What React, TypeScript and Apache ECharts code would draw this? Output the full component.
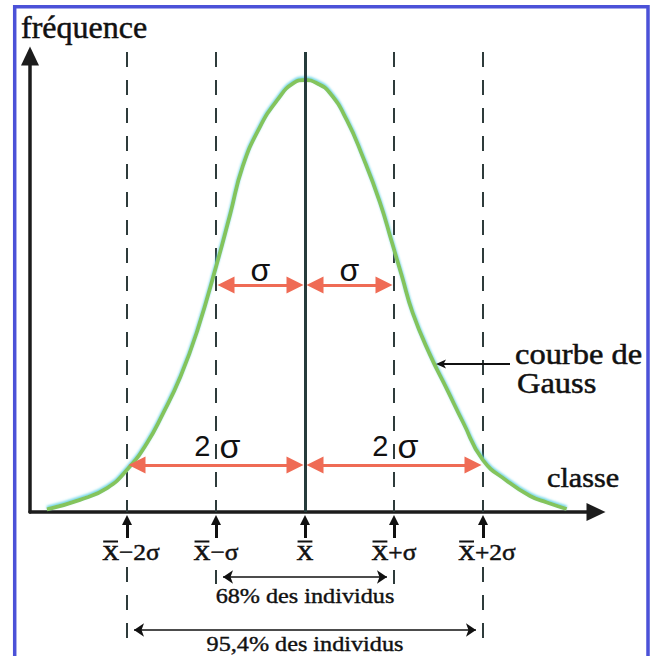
import React, { useEffect, useRef } from "react";
import * as echarts from "echarts";

// ---- data (x in σ units around the mean, y relative to the peak) ----
const curveX = [-2.9, -2.53, -2.22, -1.99, -1.78, -1.6, -1.4, -1.21, -0.99, -0.84, -0.7, -0.51, -0.31, -0.13, 0, 0.13, 0.28, 0.47, 0.65, 0.84, 0.98, 1.09, 1.21, 1.4, 1.6, 1.78, 2.0, 2.27, 2.53, 2.72, 2.94];
const curveY = [0.006, 0.028, 0.056, 0.1, 0.158, 0.226, 0.313, 0.42, 0.575, 0.69, 0.8, 0.89, 0.954, 0.993, 1.0, 0.993, 0.97, 0.907, 0.822, 0.718, 0.622, 0.545, 0.461, 0.366, 0.282, 0.206, 0.12, 0.072, 0.037, 0.022, 0.007];
const sigmaPositions = [-2, -1, 0, 1, 2];
const tickSuffixes = ["\u22122\u03c3", "\u2212\u03c3", "", "+\u03c3", "+2\u03c3"];
const innerArrows = [[-1, 0], [0, 1]];
const innerLabel = "\u03c3";
const outerArrows = [[-2, 0], [0, 2]];
const outerFactor = "2";
const coverageFrom = [-1, -2];
const coverageTo = [1, 2];
const coverageLabels = ["68% des individus", "95,4% des individus"];
const yAxisTitle = "fr\u00e9quence";
const xAxisTitle = "classe";
const curveTitle = ["courbe de", "Gauss"];

// ---- layout ----
const X_MIN = -3.09;
const X_MAX = 3.27;
const Y_MAX = 1.0556;
const GRID_LEFT = 30;
const GRID_TOP = 56;
const GRID_W = 566;
const GRID_H = 456;
const LOWER_H = 144;
const PX = GRID_W / (X_MAX - X_MIN);
const GUIDE_TOP = 1.065;
const SIGMA_ARROW_Y = 0.5255;
const TWO_SIGMA_ARROW_Y = 0.109;
const SIGMA_LABEL_Y = 0.56;
const TWO_SIGMA_LABEL_Y = 0.153;
const SERIF = '"Liberation Serif", "Times New Roman", serif';
const SANS = '"Liberation Sans", Arial, sans-serif';
const COVER_Y = [65, 118];
const COVER_LABEL_Y = [83, 131];
const TICK_LABEL_Y = 41;

const dashed = { color: "#2e3b3b", width: 2, type: [15, 13], opacity: 1 };

function buildOption(): any {
  const inset = (px: number) => px / PX;
  return {
    animation: false,
    backgroundColor: "#ffffff",
    grid: [
      { left: GRID_LEFT, top: GRID_TOP, width: GRID_W, height: GRID_H },
      { left: GRID_LEFT, top: GRID_TOP + GRID_H, width: GRID_W, height: LOWER_H },
    ],
    xAxis: [
      {
        gridIndex: 0, type: "value", min: X_MIN, max: X_MAX,
        axisLine: { show: true, onZero: false, symbol: ["none", "triangle"], symbolSize: [18, 19], lineStyle: { color: "#1c1c1c", width: 3.5 } },
        axisTick: { show: false }, axisLabel: { show: false }, splitLine: { show: false },
      },
      { gridIndex: 1, type: "value", min: X_MIN, max: X_MAX, show: false, splitLine: { show: false } },
    ],
    yAxis: [
      {
        gridIndex: 0, type: "value", min: 0, max: Y_MAX,
        axisLine: { show: true, onZero: false, symbol: ["none", "triangle"], symbolSize: [18, 19], lineStyle: { color: "#1c1c1c", width: 3.5 } },
        axisTick: { show: false }, axisLabel: { show: false }, splitLine: { show: false },
      },
      { gridIndex: 1, type: "value", min: 0, max: LOWER_H, inverse: true, show: false, splitLine: { show: false } },
    ],
    series: [
      {
        type: "lines", coordinateSystem: "cartesian2d", xAxisIndex: 0, yAxisIndex: 0, clip: false, silent: true, z: 2,
        symbol: "none", lineStyle: dashed,
        data: sigmaPositions.filter((k) => k !== 0).map((k) => ({ coords: [[k, GUIDE_TOP], [k, 0]] })),
      },
      {
        type: "line", name: "courbe de Gauss", xAxisIndex: 0, yAxisIndex: 0, z: 3, silent: true,
        data: curveX.map((x, i) => [x, curveY[i]]), smooth: 0.5, symbol: "none",
        lineStyle: { color: "#84c45c", width: 3.8, shadowColor: "rgba(80,205,225,0.85)", shadowBlur: 2, shadowOffsetY: -1.5 },
      },
      {
        type: "lines", coordinateSystem: "cartesian2d", xAxisIndex: 0, yAxisIndex: 0, clip: false, silent: true, z: 4,
        symbol: "none", lineStyle: { color: "#263b3b", width: 3, opacity: 1 },
        data: sigmaPositions.filter((k) => k === 0).map((k) => ({ coords: [[k, GUIDE_TOP], [k, 0]] })),
      },
      {
        type: "lines", coordinateSystem: "cartesian2d", xAxisIndex: 0, yAxisIndex: 0, clip: false, silent: true, z: 5,
        symbol: ["triangle", "triangle"], symbolSize: 17, lineStyle: { color: "#ef6b55", width: 3, opacity: 1 },
        data: [
          ...innerArrows.map(([a, b]) => ({ coords: [[a + inset(10), SIGMA_ARROW_Y], [b - inset(10), SIGMA_ARROW_Y]] })),
          ...outerArrows.map(([a, b]) => ({ coords: [[a + inset(10), TWO_SIGMA_ARROW_Y], [b - inset(10), TWO_SIGMA_ARROW_Y]] })),
        ],
      },
      {
        type: "lines", coordinateSystem: "cartesian2d", xAxisIndex: 1, yAxisIndex: 1, clip: false, silent: true, z: 5,
        symbol: ["none", "triangle"], symbolSize: 10, lineStyle: { color: "#111", width: 3, opacity: 1 },
        data: sigmaPositions.map((k) => ({ coords: [[k, 26], [k, 8]] })),
      },
      {
        type: "lines", coordinateSystem: "cartesian2d", xAxisIndex: 1, yAxisIndex: 1, clip: false, silent: true, z: 2,
        symbol: "none", lineStyle: dashed,
        data: sigmaPositions.filter((k) => k !== 0).map((k) => ({ coords: Math.abs(k) === 2 ? [[k, 55], [k, 128]] : [[k, 58], [k, 72]] })),
      },
      {
        type: "lines", coordinateSystem: "cartesian2d", xAxisIndex: 1, yAxisIndex: 1, clip: false, silent: true, z: 5,
        symbol: ["arrow", "arrow"], symbolSize: 10, lineStyle: { color: "#111", width: 1.5, opacity: 1 },
        data: coverageFrom.map((a, i) => ({ coords: [[a + inset(7), COVER_Y[i]], [coverageTo[i] - inset(7), COVER_Y[i]]] })),
      },
    ],
  };
}

function buildGraphic(chart: any): any[] {
  const up = (x: number, y: number) => chart.convertToPixel({ gridIndex: 0 }, [x, y]) as number[];
  const lo = (x: number, y: number) => chart.convertToPixel({ gridIndex: 1 }, [x, y]) as number[];
  const txt = (text: string, x: number, y: number, size: number, family: string, align: string, sx = 1, weight = 0.5) => ({
    type: "text", x, y, scaleX: sx, z: 10, silent: true,
    style: {
      text, fontSize: size, fontFamily: family, fill: "#111", align, verticalAlign: "middle", textAlign: align, textVerticalAlign: "middle",
      stroke: weight > 0 ? "#111" : undefined, lineWidth: weight,
    },
  });
  const els: any[] = [];
  els.push({ type: "rect", z: 20, silent: true, shape: { x: 14.7, y: 6.7, width: 633.3, height: 700 }, style: { fill: "none", stroke: "#4b51d8", lineWidth: 3.5 } });
  els.push(txt(yAxisTitle, 21, 27, 32, SERIF, "left"));
  els.push(txt(xAxisTitle, 547, 478, 27, SERIF, "left", 1.12));
  els.push(txt(curveTitle[0], 515, 355, 29, SERIF, "left", 1.12));
  els.push(txt(curveTitle[1], 517, 384, 29, SERIF, "left", 1.12));
  els.push({ type: "line", z: 10, silent: true, shape: { x1: 510, y1: 364, x2: 442, y2: 364 }, style: { stroke: "#111", lineWidth: 2 } });
  els.push({ type: "polygon", z: 10, silent: true, shape: { points: [[436, 364], [446, 359.5], [443.5, 364], [446, 368.5]] }, style: { fill: "#111" } });

  innerArrows.forEach(([a, b]) => {
    const [x, y] = up((a + b) / 2, SIGMA_LABEL_Y);
    els.push(txt(innerLabel, x, y, 32, SANS, "center", 1, 0));
  });
  outerArrows.forEach(([a, b]) => {
    const [x, y] = up((a + b) / 2, TWO_SIGMA_LABEL_Y);
    els.push(txt(outerFactor, x - 5.5, y, 29, SANS, "right", 1, 0));
    els.push(txt(innerLabel, x + 3.5, y, 34, SANS, "left", 1, 0));
  });

  const TS = 1.06;
  const FX = 22;
  const FSUF = 24;
  const ctx = document.createElement("canvas").getContext("2d")!;
  ctx.font = `${FX}px ${SERIF}`;
  const wX = ctx.measureText("X").width * TS;
  ctx.font = `${FSUF}px ${SERIF}`;
  sigmaPositions.forEach((k, i) => {
    const suf = tickSuffixes[i];
    const wS = suf ? ctx.measureText(suf).width * TS : 0;
    const [cx, cy] = lo(k, TICK_LABEL_Y);
    const x0 = cx + (Math.abs(k) === 2 ? 4 : 0) - (wX + wS) / 2;
    els.push(txt("X", x0, cy, FX, SERIF, "left", TS, 0.7));
    els.push({ type: "rect", z: 10, silent: true, shape: { x: x0 + 1, y: cy - 12.5, width: wX - 2, height: 2 }, style: { fill: "#111" } });
    if (suf) els.push(txt(suf, x0 + wX, cy - 0.8, FSUF, SERIF, "left", TS, 0.5));
  });

  coverageLabels.forEach((label, i) => {
    const [x, y] = lo((coverageFrom[i] + coverageTo[i]) / 2, COVER_LABEL_Y[i]);
    els.push(txt(label, x, y, 22, SERIF, "center", 1.1, 0.4));
  });
  return els;
}

export default function App() {
  const ref = useRef<HTMLDivElement>(null);
  useEffect(() => {
    document.body.style.margin = "0";
    const chart = echarts.init(ref.current!, null, { renderer: "svg" });
    chart.setOption(buildOption());
    chart.setOption({ graphic: buildGraphic(chart) });
    return () => chart.dispose();
  }, []);
  return <div ref={ref} style={{ width: 658, height: 656 }} />;
}
